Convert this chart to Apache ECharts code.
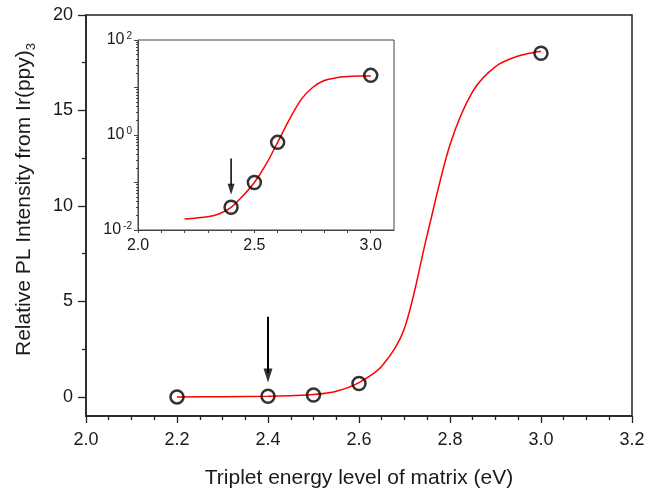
<!DOCTYPE html>
<html>
<head>
<meta charset="utf-8">
<title></title>
<script src="https://cdn.jsdelivr.net/npm/echarts@6/dist/echarts.min.js"></script>
<style>
html,body{margin:0;width:100%;height:100%;background:#fff;}
#chart{width:656px;height:490px;}
</style>
</head>
<body>
<div id="chart"></div>
<script>
// measured points
var energy = [2.2, 2.4, 2.5, 2.6, 3.0];
var intensity = [0, 0.03, 0.1, 0.7, 18];

// fit curve
var fitX = [2.2, 2.3, 2.4, 2.45, 2.5, 2.55, 2.6, 2.65, 2.7, 2.75, 2.8, 2.85, 2.9, 2.95, 3.0];
var fitY = [0, 0.01, 0.03, 0.06, 0.12, 0.3, 0.75, 1.6, 3.6, 8.5, 13.2, 16.0, 17.3, 17.85, 18.1];

// fit curve (log scale)
var insetFitX = [2.2, 2.3, 2.35, 2.4, 2.45, 2.5, 2.55, 2.6, 2.65, 2.7, 2.75, 2.8, 2.85, 2.9, 2.95, 3.0];
var insetFitY = [0.017, 0.019, 0.022, 0.03, 0.052, 0.1, 0.24, 0.7, 2.1, 5.5, 10, 14, 16, 17, 17.4, 17.5];

// arrows: [x, from, tip]
var mainArrow = [2.4, 4.2, 0.75];
var insetArrow = [2.4, 0.32, 0.055];

var yLabels = [0, 5, 10, 15, 20];
var yMinor = [2.5, 7.5, 12.5, 17.5];
var insetXTicks = [2.0, 2.1, 2.2, 2.3, 2.4, 2.5, 2.6, 2.7, 2.8, 2.9, 3.0];
var insetXLabels = [2.0, 2.5, 3.0];
var insetYLabels = [0.01, 1, 100];
var insetYTicks = [0.01, 0.1, 1, 10, 100];
var insetYMinor = [0.02,0.03,0.04,0.05,0.06,0.07,0.08,0.09,
                   0.2,0.3,0.4,0.5,0.6,0.7,0.8,0.9,
                   2,3,4,5,6,7,8,9,
                   20,30,40,50,60,70,80,90];

function zip(a, b){
  var out = [];
  for (var i = 0; i < a.length; i++) out.push([a[i], b[i]]);
  return out;
}

var pts = zip(energy, intensity);
var insetPts = pts.filter(function(p){ return p[1] > 0; });

var font = 'Liberation Sans';
var ink = '#1a1a1a';
var axisLine = {onZero:false, lineStyle:{color:'#222', width:1.5}};

var option = {
  animation: false,
  textStyle: {fontFamily: font},
  grid: [
    {left:86, top:15, right:24, bottom:74, show:true, borderColor:'#222', borderWidth:1.5, outerBoundsMode:'none'},
    {left:138, top:40, width:256, height:190, show:true, borderColor:'#444', borderWidth:1, backgroundColor:'#fff', outerBoundsMode:'none'}
  ],
  xAxis: [
    {
      type:'value', gridIndex:0, min:2.0, max:3.2, interval:0.2,
      name:'Triplet energy level of matrix (eV)', nameLocation:'middle', nameGap:52,
      nameTextStyle:{fontSize:21, color:ink, fontFamily:font},
      axisLine: axisLine,
      axisTick:{length:7, lineStyle:{color:'#222', width:1.3}},
      minorTick:{show:true, splitNumber:4, length:4, lineStyle:{color:'#222', width:1.3}},
      splitLine:{show:false},
      axisLabel:{fontSize:18, color:ink, margin:15, alignMinLabel:'center', alignMaxLabel:'center',
                 formatter:function(v){ return v.toFixed(1); }}
    },
    {
      type:'value', gridIndex:1, min:2.0, max:3.1,
      axisLine:{onZero:false, lineStyle:{color:'#444', width:1}},
      axisTick:{length:3, customValues:insetXTicks, lineStyle:{color:'#444'}},
      splitLine:{show:false},
      axisLabel:{fontSize:16, color:ink, margin:8, customValues:insetXLabels, align:'center',
                 alignMinLabel:'center', hideOverlap:false,
                 formatter:function(v){ return v.toFixed(1); }}
    }
  ],
  yAxis: [
    {
      type:'value', gridIndex:0, min:-1, max:20, position:'left',
      name:'Relative PL Intensity from Ir(ppy){sub|3}', nameLocation:'middle', nameGap:48,
      nameTextStyle:{fontSize:21, lineHeight:28, color:ink, fontFamily:font, padding:[0,0,0,32],
        rich:{sub:{fontSize:13, lineHeight:13, verticalAlign:'bottom', color:ink, fontFamily:font}}},
      axisLine: axisLine,
      axisTick:{length:8, customValues:yLabels, lineStyle:{color:'#222', width:1.3}},
      splitLine:{show:false},
      axisLabel:{fontSize:18, color:ink, margin:13, customValues:yLabels}
    },
    {
      type:'value', gridIndex:0, min:-1, max:20, position:'left', offset:0,
      axisLine:{show:false, onZero:false},
      axisTick:{length:4, customValues:yMinor, lineStyle:{color:'#222', width:1.3}},
      splitLine:{show:false},
      axisLabel:{show:false}
    },
    {
      type:'log', logBase:10, gridIndex:1, min:0.01, max:100, position:'left',
      axisLine:{onZero:false, lineStyle:{color:'#444', width:1}},
      axisTick:{length:4, customValues:insetYTicks, lineStyle:{color:'#444'}},
      splitLine:{show:false},
      axisLabel:{margin:6, customValues:insetYLabels, color:ink,
        formatter:function(v){ return '{b|10}{s|' + Math.round(Math.log10(v)) + '}'; },
        rich:{
          b:{fontSize:16, lineHeight:18, color:ink, fontFamily:font},
          s:{fontSize:10, lineHeight:10, verticalAlign:'top', color:ink, fontFamily:font, padding:[0,0,0,2]}
        }}
    },
    {
      type:'log', logBase:10, gridIndex:1, min:0.01, max:100, position:'left', offset:0,
      axisLine:{show:false, onZero:false},
      axisTick:{length:2, customValues:insetYMinor, lineStyle:{color:'#444'}},
      splitLine:{show:false},
      axisLabel:{show:false}
    }
  ],
  series: [
    {
      type:'line', xAxisIndex:0, yAxisIndex:0, data:zip(fitX, fitY),
      smooth:0.3, showSymbol:false,
      lineStyle:{color:'#ff0000', width:1.5}, z:2
    },
    {
      type:'scatter', xAxisIndex:0, yAxisIndex:0, data:pts,
      symbol:'circle', symbolSize:13,
      itemStyle:{color:'rgba(255,255,255,0)', borderColor:'#000', borderWidth:2.5}, z:3
    },
    {
      type:'line', xAxisIndex:0, yAxisIndex:0,
      data:[[mainArrow[0], mainArrow[1]], [mainArrow[0], mainArrow[2] + 0.5]],
      showSymbol:false, lineStyle:{color:'#000', width:2}, z:4
    },
    {
      type:'scatter', xAxisIndex:0, yAxisIndex:0, data:[[mainArrow[0], mainArrow[2]]],
      symbol:'triangle', symbolSize:[9,14], symbolRotate:180, symbolOffset:[0,-7],
      itemStyle:{color:'#000'}, z:4
    },
    {
      type:'line', xAxisIndex:1, yAxisIndex:2, data:zip(insetFitX, insetFitY),
      smooth:0.3, showSymbol:false,
      lineStyle:{color:'#ff0000', width:1.5}, z:5
    },
    {
      type:'scatter', xAxisIndex:1, yAxisIndex:2, data:insetPts,
      symbol:'circle', symbolSize:13,
      itemStyle:{color:'rgba(255,255,255,0)', borderColor:'#000', borderWidth:2.5}, z:6
    },
    {
      type:'line', xAxisIndex:1, yAxisIndex:2,
      data:[[insetArrow[0], insetArrow[1]], [insetArrow[0], insetArrow[2] * 1.6]],
      showSymbol:false, lineStyle:{color:'#000', width:1.5}, z:7
    },
    {
      type:'scatter', xAxisIndex:1, yAxisIndex:2, data:[[insetArrow[0], insetArrow[2]]],
      symbol:'triangle', symbolSize:[7,11], symbolRotate:180, symbolOffset:[0,-5.5],
      itemStyle:{color:'#000'}, z:7
    }
  ]
};

var chart = echarts.init(document.getElementById('chart'));
chart.setOption(option);
</script>
</body>
</html>
